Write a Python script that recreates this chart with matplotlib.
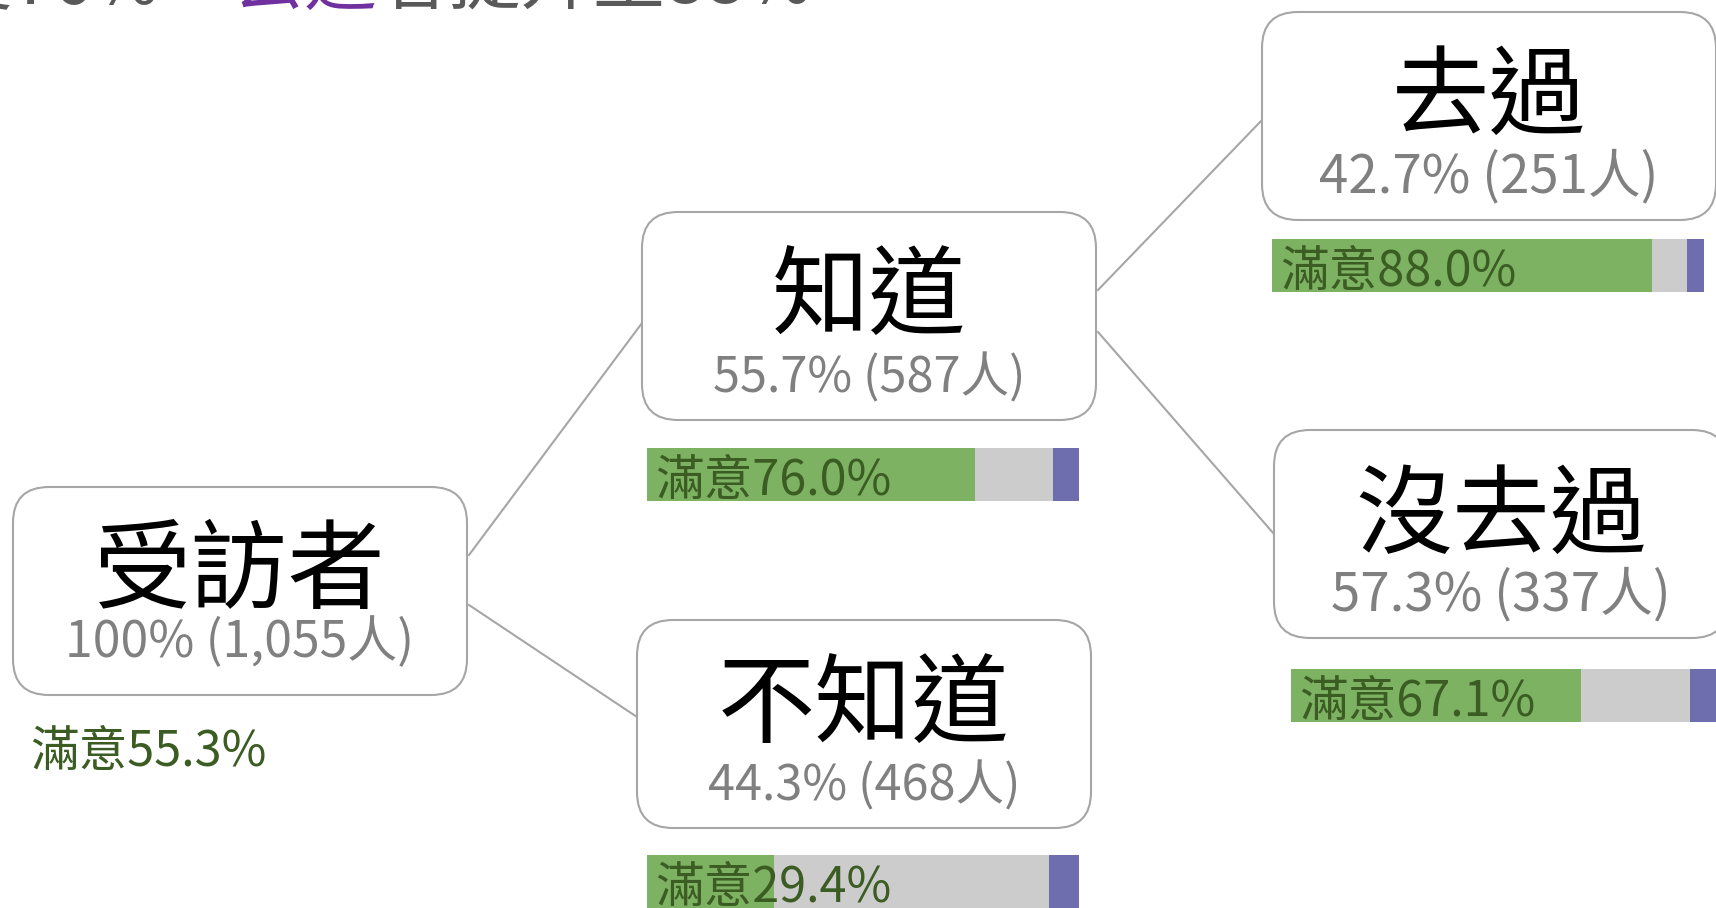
import matplotlib
matplotlib.use('Agg')
import matplotlib.pyplot as plt
from matplotlib.patches import FancyBboxPatch

plt.rcParams['font.family'] = ['Noto Sans CJK TC', 'DejaVu Sans']

# 數據
nodes = ['受訪者', '知道', '不知道', '去過', '沒去過']
share = [100, 55.7, 44.3, 42.7, 57.3]          # 佔比 %
people = [1055, 587, 468, 251, 337]            # 人數
satisfied = [55.3, 76.0, 29.4, 88.0, 67.1]     # 滿意 %
neutral = [None, 18.0, 63.6, 8.1, 25.3]        # 普通 %
unsatisfied = [None, 6.0, 7.0, 3.9, 7.6]       # 不滿意 %
links = [(0, 1), (0, 2), (1, 3), (1, 4)]
title_parts = ['知道者滿意度76%，', '去過', '者提升至88%']

# 版面 (像素座標)
W, H = 1716, 908
box_xy = [(13, 487), (642, 212), (637, 620), (1262, 12), (1274, 430)]
BOX_W, BOX_H = 454, 208
big_dy = [114, 115, 115, 115, 116]
sub_dy = [170, 180, 180, 180, 180]
sub_fs = [36, 35, 35, 38, 38]
bar_xy = [(30, 724), (647, 448), (647, 855), (1272, 239), (1291, 669)]
BAR_W, BAR_H = 432, 53
# 連線 (來源框右側 y, 目標框左側 y)
link_y = [(555, 323), (605, 717), (290, 120), (332, 534)]

C_GREEN, C_GRAY, C_PURPLE = '#7db263', '#cccccc', '#6e6eaf'
C_TXT_GREEN = '#3b5c22'
C_EDGE = '#a6a6a6'

fig = plt.figure(figsize=(W / 100, H / 100), dpi=100)
ax = fig.add_axes([0, 0, 1, 1])
ax.set_xlim(0, W)
ax.set_ylim(H, 0)
ax.axis('off')

#* 連線
for (s, t), (ys, yt) in zip(links, link_y):
    xs = box_xy[s][0] + BOX_W + 2
    xt = box_xy[t][0]
    ax.plot([xs, xt], [ys, yt], color=C_EDGE, lw=1.5, zorder=1)

#* 節點框
for i, name in enumerate(nodes):
    x, y = box_xy[i]
    ax.add_patch(FancyBboxPatch((x, y), BOX_W, BOX_H,
                                boxstyle='round,pad=0,rounding_size=36',
                                fc='white', ec=C_EDGE, lw=1.5, zorder=2))
    cx = x + BOX_W / 2
    ax.text(cx, y + big_dy[i], name, fontsize=70, color='black',
            ha='center', va='baseline', zorder=3)
    if share[i] == 100:
        sub = f'{share[i]:.0f}% ({people[i]:,}人)'
    else:
        sub = f'{share[i]:.1f}% ({people[i]:,}人)'
    ax.text(cx, y + sub_dy[i], sub, fontsize=sub_fs[i], color='#808080',
            ha='center', va='baseline', zorder=3)

#* 滿意度條
for i in range(len(nodes)):
    bx, by = bar_xy[i]
    label = f'滿意{satisfied[i]:.1f}%'
    if neutral[i] is None:
        ax.text(bx, by + 42, label, fontsize=35, color=C_TXT_GREEN,
                ha='left', va='baseline')
        continue
    left = bx
    for val, col in [(satisfied[i], C_GREEN), (neutral[i], C_GRAY),
                     (unsatisfied[i], C_PURPLE)]:
        w = BAR_W * val / 100
        ax.barh(by, w, height=BAR_H, left=left, align='edge', color=col,
                edgecolor='none', zorder=2)
        left += w
    ax.text(bx + 8, by + 47, label, fontsize=35, color=C_TXT_GREEN,
            ha='left', va='baseline', zorder=3)

#* 標題 (上方被截掉)
fig.canvas.draw()
r = fig.canvas.get_renderer()
t0 = ax.text(232, 4, title_parts[0], fontsize=52, color='#595959',
             ha='right', va='baseline')
t1 = ax.text(232, 4, title_parts[1], fontsize=52, color='#7030a0',
             ha='left', va='baseline')
bb = t1.get_window_extent(renderer=r)
x_end = ax.transData.inverted().transform((bb.x1, bb.y0))[0]
ax.text(x_end, 4, title_parts[2], fontsize=52, color='#595959',
        ha='left', va='baseline')

fig.savefig('out.png', dpi=100)
